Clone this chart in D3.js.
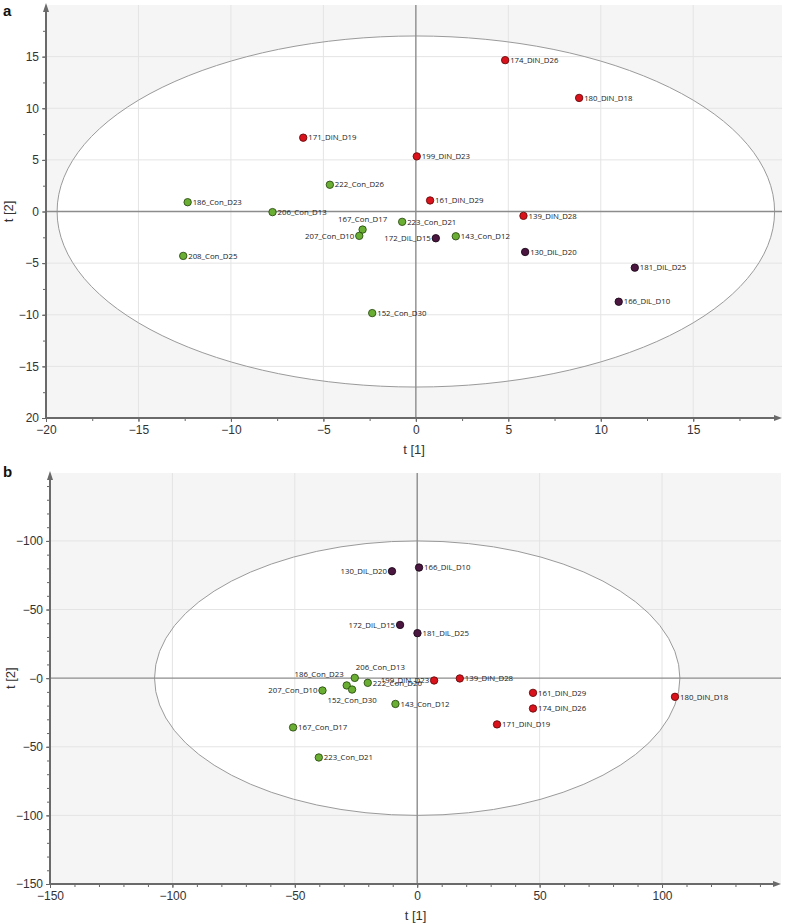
<!DOCTYPE html>
<html><head><meta charset="utf-8">
<script src="https://cdn.jsdelivr.net/npm/d3@7"></script>
<style>
body{margin:0;background:#fff;}
svg{display:block;}
</style></head>
<body>
<svg id="chart" width="786" height="924"></svg>
<script>
// ---------- Panel a data ----------
const namesA = ["171_DiN_D19","174_DiN_D26","180_DiN_D18","199_DiN_D23","161_DiN_D29","139_DiN_D28",
  "222_Con_D26","186_Con_D23","206_Con_D13","167_Con_D17","207_Con_D10","208_Con_D25","152_Con_D30","223_Con_D21","143_Con_D12",
  "172_DiL_D15","130_DiL_D20","181_DiL_D25","166_DiL_D10"];
const groupsA = ["DiN","DiN","DiN","DiN","DiN","DiN","Con","Con","Con","Con","Con","Con","Con","Con","Con","DiL","DiL","DiL","DiL"];
const xA = [-6.09, 4.83, 8.83, 0.05, 0.77, 5.82, -4.65, -12.34, -7.75, -2.88, -3.06, -12.58, -2.36, -0.74, 2.16, 1.08, 5.91, 11.84, 10.97];
const yA = [7.15, 14.66, 11.0, 5.34, 1.07, -0.42, 2.59, 0.9, -0.06, -1.75, -2.36, -4.3, -9.84, -1.0, -2.4, -2.59, -3.92, -5.44, -8.74];
const labelSideA = ["r","r","r","r","r","r","r","r","r","t","l","r","r","r","r","l","r","r","r"];
const xTicksA = [-20,-15,-10,-5,0,5,10,15];
const xTickLabelsA = ["\u221220","\u221215","\u221210","\u22125","0","5","10","15"];
const yTicksA = [-20,-15,-10,-5,0,5,10,15];
const yTickLabelsA = ["20","\u221215","\u221210","\u22125","0","5","10","15"];

// ---------- Panel b data ----------
const namesB = ["130_DiL_D20","166_DiL_D10","172_DiL_D15","181_DiL_D25",
  "206_Con_D13","186_Con_D23","152_Con_D30","222_Con_D26","207_Con_D10","167_Con_D17","223_Con_D21","143_Con_D12",
  "199_DiN_D23","139_DiN_D28","171_DiN_D19","161_DiN_D29","174_DiN_D26","180_DiN_D18"];
const groupsB = ["DiL","DiL","DiL","DiL","Con","Con","Con","Con","Con","Con","Con","Con","DiN","DiN","DiN","DiN","DiN","DiN"];
const xB = [-10.3, 0.75, -7.0, 0.1, -25.5, -28.8, -26.6, -20.2, -38.7, -50.7, -40.2, -8.9, 6.9, 17.4, 32.6, 47.3, 47.3, 105.3];
const yB = [77.9, 80.6, 38.8, 32.8, 0.2, -5.3, -8.3, -3.4, -9.0, -35.9, -57.8, -18.8, -1.7, -0.2, -33.7, -10.7, -22.1, -13.6];
const labelSideB = ["l","r","l","r","tr","tl","b","r","l","r","r","r","l","r","r","r","r","r"];
const xTicksB = [-150,-100,-50,0,50,100];
const xTickLabelsB = ["\u2212150","\u2212100","\u221250","0","50","100"];
const yTicksB = [-150,-100,-50,0,50,100];
const yTickLabelsB = ["\u2212150","\u2212100","\u221250","\u22120","\u221250","\u2212100"];

const colors = {DiN:"#d9121c", Con:"#6aae34", DiL:"#4b1741"};
const strokes = {DiN:"#6a0a0a", Con:"#2c4f12", DiL:"#1c0718"};

const svg = d3.select("#chart");
const defs = svg.append("defs");

function panel(cfg){
  const {id, letter, letterY, left, right, top, bottom, xDom, yDom, ellA, ellB,
         xTicks, xLabels, yTicks, yLabels, minorX, minorY, names, groups, xs, ys, sides, titleOff} = cfg;
  const x = d3.scaleLinear().domain(xDom).range([left, right]);
  const y = d3.scaleLinear().domain(yDom).range([bottom, top]);
  const g = svg.append("g");

  defs.append("clipPath").attr("id","clip"+id).append("rect")
    .attr("x",left).attr("y",top).attr("width",right-left).attr("height",bottom-top);

  g.append("rect").attr("x",left).attr("y",top).attr("width",right-left).attr("height",bottom-top)
    .attr("fill","#f5f5f5");
  const pg = g.append("g").attr("clip-path","url(#clip"+id+")");
  pg.append("ellipse").attr("cx",x(0)).attr("cy",y(0))
    .attr("rx",x(ellA)-x(0)).attr("ry",y(0)-y(ellB)).attr("fill","#fff");
  pg.selectAll(".gx").data(xTicks.filter(v=>v!==0 && v!==xDom[0])).enter().append("line")
    .attr("x1",d=>x(d)).attr("x2",d=>x(d)).attr("y1",top).attr("y2",bottom)
    .attr("stroke","#e4e4e4").attr("stroke-width",1);
  pg.selectAll(".gy").data(yTicks.filter(v=>v!==0 && v!==yDom[0])).enter().append("line")
    .attr("y1",d=>y(d)).attr("y2",d=>y(d)).attr("x1",left).attr("x2",right)
    .attr("stroke","#e4e4e4").attr("stroke-width",1);
  pg.append("ellipse").attr("cx",x(0)).attr("cy",y(0))
    .attr("rx",x(ellA)-x(0)).attr("ry",y(0)-y(ellB)).attr("fill","none")
    .attr("stroke","#9a9a9a").attr("stroke-width",1);
  pg.append("line").attr("x1",x(0)).attr("x2",x(0)).attr("y1",top).attr("y2",bottom)
    .attr("stroke","#8c8c8c").attr("stroke-width",1.4);
  pg.append("line").attr("x1",left).attr("x2",right).attr("y1",y(0)).attr("y2",y(0))
    .attr("stroke","#8c8c8c").attr("stroke-width",1.4);

  const axFont = "'Liberation Sans Narrow', 'Liberation Sans', Arial, sans-serif";
  const minorXAxis = d3.axisBottom(x).tickValues(d3.range(xDom[0], xDom[1], minorX)).tickSize(3).tickFormat("");
  const minorYAxis = d3.axisLeft(y).tickValues(d3.range(yDom[0], yDom[1], minorY)).tickSize(3).tickFormat("");
  const gxm = g.append("g").attr("transform",`translate(0,${bottom})`).call(minorXAxis);
  const gym = g.append("g").attr("transform",`translate(${left},0)`).call(minorYAxis);
  [gxm,gym].forEach(a=>{a.select(".domain").remove(); a.selectAll("line").attr("stroke","#666");});

  const xAxis = d3.axisBottom(x).tickValues(xTicks).tickSize(4).tickPadding(3)
    .tickFormat((d,i)=>xLabels[i]);
  const yAxis = d3.axisLeft(y).tickValues(yTicks).tickSize(4).tickPadding(3)
    .tickFormat((d,i)=>yLabels[i]);
  const gx = g.append("g").attr("transform",`translate(0,${bottom})`).call(xAxis);
  const gy = g.append("g").attr("transform",`translate(${left},0)`).call(yAxis);
  [gx,gy].forEach(a=>{
    a.select(".domain").remove();
    a.selectAll("line").attr("stroke","#666");
    a.selectAll("text").attr("font-family",axFont).attr("font-size",12).attr("fill","#333");
  });
  g.append("line").attr("x1",left).attr("x2",right-4).attr("y1",bottom).attr("y2",bottom)
    .attr("stroke","#6a6a6a").attr("stroke-width",2);
  g.append("path").attr("d",`M${right},${bottom} L${right-8},${bottom-3} L${right-8},${bottom+3} Z`).attr("fill","#6a6a6a");
  g.append("line").attr("x1",left).attr("x2",left).attr("y1",bottom).attr("y2",top+4)
    .attr("stroke","#6a6a6a").attr("stroke-width",2);
  g.append("path").attr("d",`M${left},${top-2} L${left-3},${top+7} L${left+3},${top+7} Z`).attr("fill","#6a6a6a");

  g.append("text").attr("x",(left+right)/2).attr("y",bottom+36).attr("text-anchor","middle")
    .attr("font-family",axFont).attr("font-size",13).attr("fill","#333").text("t [1]");
  g.append("text").attr("transform",`translate(${left-titleOff},${y(0)}) rotate(-90)`).attr("text-anchor","middle")
    .attr("font-family",axFont).attr("font-size",13).attr("fill","#333").text("t [2]");

  g.append("text").attr("x",3).attr("y",letterY).attr("font-family","Arial, 'Liberation Sans', sans-serif")
    .attr("font-weight","bold").attr("font-size",15).attr("fill","#111").text(letter);

  const data = names.map((n,i)=>({n, g:groups[i], x:xs[i], y:ys[i], s:sides[i]}));
  const lblFont = "'Open Sans', 'Noto Sans', sans-serif";
  const pts = g.append("g");
  pts.selectAll("circle").data(data).enter().append("circle")
    .attr("cx",d=>x(d.x)).attr("cy",d=>y(d.y)).attr("r",3.7)
    .attr("fill",d=>colors[d.g]).attr("stroke",d=>strokes[d.g]).attr("stroke-width",0.9);
  pts.selectAll("text").data(data).enter().append("text")
    .attr("x",d=>{const cx=x(d.x);
      if(d.s==="r") return cx+5; if(d.s==="l") return cx-5;
      if(d.s==="t"||d.s==="b") return cx; if(d.s==="tr") return cx+1; return cx-3;})
    .attr("y",d=>{const cy=y(d.y);
      if(d.s==="t"||d.s==="tl"||d.s==="tr") return cy-8; if(d.s==="b") return cy+13; return cy+2.7;})
    .attr("text-anchor",d=>d.s==="l"||d.s==="tl"?"end":(d.s==="t"||d.s==="b"?"middle":"start"))
    .attr("font-family",lblFont).attr("font-size",7.8).attr("fill","#1a1a1a")
    .text(d=>d.n);
}

panel({id:"a", letter:"a", letterY:16, left:46, right:782, top:5, bottom:418,
  xDom:[-20,19.8], yDom:[-20,20], ellA:19.4, ellB:17.0, titleOff:33,
  xTicks:xTicksA, xLabels:xTickLabelsA, yTicks:yTicksA, yLabels:yTickLabelsA, minorX:2.5, minorY:2.5,
  names:namesA, groups:groupsA, xs:xA, ys:yA, sides:labelSideA});

panel({id:"b", letter:"b", letterY:477, left:50, right:781, top:473, bottom:884,
  xDom:[-150,148.6], yDom:[-150,149.5], ellA:107.3, ellB:100, titleOff:35,
  xTicks:xTicksB, xLabels:xTickLabelsB, yTicks:yTicksB, yLabels:yTickLabelsB, minorX:10, minorY:10,
  names:namesB, groups:groupsB, xs:xB, ys:yB, sides:labelSideB});
</script>
</body></html>
